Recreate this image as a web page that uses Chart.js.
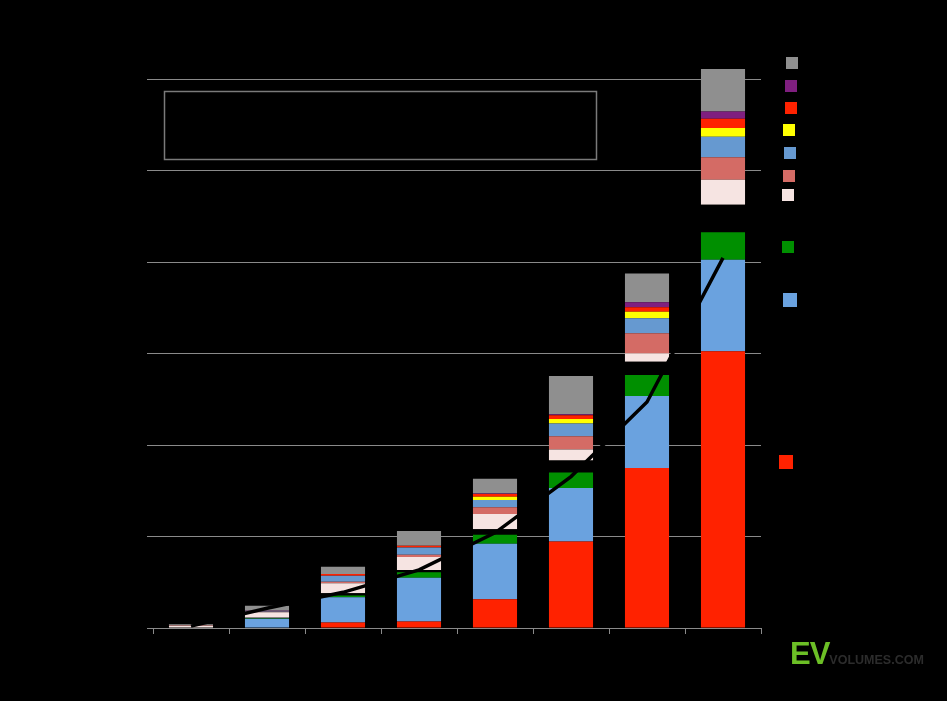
<!DOCTYPE html>
<html>
<head>
<meta charset="utf-8">
<title>Global Plug-in Vehicle Sales</title>
<script src="https://cdn.jsdelivr.net/npm/chart.js@4/dist/chart.umd.min.js"></script>
<style>
  html, body { margin: 0; padding: 0; background: #000; }
  #wrap { position: relative; width: 947px; height: 701px; background: #000; }
  #salesChart { position: absolute; left: 0; top: 0; }
  .logo { position: absolute; left: 790px; top: 636px; font-family: "Liberation Sans", Arial, sans-serif; white-space: nowrap; }
  .logo .ev { color: #6cbf26; font-size: 31px; font-weight: bold; letter-spacing: -1px; }
  .logo .vol { color: #2c2c2c; font-size: 12.5px; font-weight: bold; }
  .title { position: absolute; left: 153px; top: 20px; color: #000; font: bold 20px "Liberation Sans", Arial, sans-serif; }
</style>
</head>
<body>
<div id="wrap">
  <div class="title">Global Plug-in Vehicle Sales</div>
  <canvas id="salesChart" width="947" height="701"></canvas>
  <div class="logo"><span class="ev">EV</span><span class="vol">VOLUMES.COM</span></div>
</div>
<script>
// sales in thousand units
var years = ['2010', '2011', '2012', '2013', '2014', '2015', '2016', '2017'];

var chinaBev   = [0, 1, 12, 14, 63, 189, 350, 605];
var europeBev  = [0, 19, 55, 96, 121, 117, 157, 200];
var usaBev     = [0, 1.5, 4, 12, 20, 34, 46, 60];
var otherBev   = [0, 1, 5, 5, 12, 26, 29, 60];
var chinaPhev  = [5, 12, 22, 28, 33, 24, 18, 55];
var europePhev = [1, 1, 3, 5, 15, 29, 44, 49];
var usaPhev    = [0, 1, 13, 16, 16, 28, 33, 45];
var japanPhev  = [0, 0, 0, 0, 7, 10, 14, 19];
var koreaPhev  = [0, 0, 4, 4, 6, 8, 10, 20];
var canadaPhev = [0, 1, 0, 0, 1, 2, 11, 16];
var restPhev   = [2, 11, 16, 32, 32, 84, 63, 93];

var bevTotal   = [4, 43, 78, 127, 208, 331, 494, 809];

var yTicks = [0, 200, 400, 600, 800, 1000, 1200];

var grey = '#8a8a8a';

function bar(label, data, color) {
    return {
        type: 'bar',
        label: label,
        data: data,
        backgroundColor: color,
        borderWidth: 0,
        stack: 'sales',
        order: 1,
        clip: false,
        barPercentage: 0.58,
        categoryPercentage: 1
    };
}

var datasets = [
    bar('China BEV', chinaBev, '#ff2200'),
    bar('Europe BEV', europeBev, '#6aa2df'),
    bar('USA BEV', usaBev, '#008f00'),
    bar('Other BEV', otherBev, '#000000'),
    bar('China PHEV', chinaPhev, '#f6e4e2'),
    bar('Europe PHEV', europePhev, '#d46b65'),
    bar('USA PHEV', usaPhev, '#6699d0'),
    bar('Japan', japanPhev, '#ffff00'),
    bar('Korea', koreaPhev, '#ff2200'),
    bar('Canada', canadaPhev, '#7f1f7f'),
    bar('Rest of World', restPhev, '#8f8f8f'),
    {
        type: 'line',
        label: 'BEV total',
        data: bevTotal,
        borderColor: '#000000',
        borderWidth: 3.5,
        pointRadius: 0,
        tension: 0,
        order: 0
    }
];

// legend squares next to the last bar, labels in black like the original
var legendItems = [
    { label: 'Rest of World', color: '#8f8f8f', x: 786, y: 57, s: 12 },
    { label: 'Canada', color: '#7f1f7f', x: 785, y: 80, s: 12 },
    { label: 'Korea', color: '#ff2200', x: 785, y: 102, s: 12 },
    { label: 'Japan', color: '#ffff00', x: 783, y: 124, s: 12 },
    { label: 'USA PHEV', color: '#6699d0', x: 784, y: 147, s: 12 },
    { label: 'Europe PHEV', color: '#d46b65', x: 783, y: 170, s: 12 },
    { label: 'China PHEV', color: '#f6e4e2', x: 782, y: 189, s: 12 },
    { label: 'Other BEV', color: '#000000', x: 782, y: 212, s: 12 },
    { label: 'USA BEV', color: '#008f00', x: 782, y: 241, s: 12 },
    { label: 'Europe BEV', color: '#6aa2df', x: 783, y: 293, s: 14 },
    { label: 'China BEV', color: '#ff2200', x: 779, y: 455, s: 14 }
];

var extras = {
    id: 'extras',
    afterDraw: function (chart) {
        var ctx = chart.ctx;
        ctx.save();
        // note box
        ctx.strokeStyle = '#7a7a7a';
        ctx.lineWidth = 1.5;
        ctx.strokeRect(164.5, 91.5, 432, 68);
        ctx.fillStyle = '#000';
        ctx.font = '14px "Liberation Sans", Arial, sans-serif';
        ctx.textBaseline = 'middle';
        ctx.fillText('Light vehicles, BEV + PHEV, thousand units', 176, 125);
        // legend
        legendItems.forEach(function (it) {
            ctx.fillStyle = it.color;
            ctx.fillRect(it.x, it.y, it.s, it.s);
            ctx.fillStyle = '#000';
            ctx.font = '13px "Liberation Sans", Arial, sans-serif';
            ctx.fillText(it.label, it.x + it.s + 6, it.y + it.s / 2);
        });
        ctx.restore();
    }
};

document.addEventListener('DOMContentLoaded', function () {
    var ctx = document.getElementById('salesChart').getContext('2d');
    Chart.defaults.font.family = '"Liberation Sans", Arial, sans-serif';
    new Chart(ctx, {
        data: { labels: years, datasets: datasets },
        options: {
            responsive: false,
            animation: false,
            layout: { padding: { left: 0, right: 186, top: 79, bottom: 0 } },
            plugins: {
                legend: { display: false },
                tooltip: { enabled: false },
                title: { display: false }
            },
            scales: {
                x: {
                    stacked: true,
                    offset: true,
                    grid: {
                        offset: true,
                        drawOnChartArea: false,
                        drawTicks: true,
                        tickLength: 6,
                        color: grey,
                        lineWidth: 1
                    },
                    border: { display: true, color: grey, width: 1 },
                    ticks: { color: '#000', font: { size: 14 } },
                    afterFit: function (scale) { scale.height = 73; }
                },
                y: {
                    stacked: true,
                    min: 0,
                    max: 1200,
                    afterBuildTicks: function (scale) {
                        scale.ticks = yTicks.map(function (v) { return { value: v }; });
                    },
                    grid: {
                        color: grey,
                        lineWidth: 1,
                        drawTicks: true,
                        tickLength: 6
                    },
                    border: { display: false },
                    ticks: { color: '#000', font: { size: 14 } },
                    title: { display: true, text: 'Sales (thousand units)', color: '#000' },
                    afterFit: function (scale) { scale.width = 153; }
                }
            }
        },
        plugins: [extras]
    });
});
</script>
</body>
</html>
